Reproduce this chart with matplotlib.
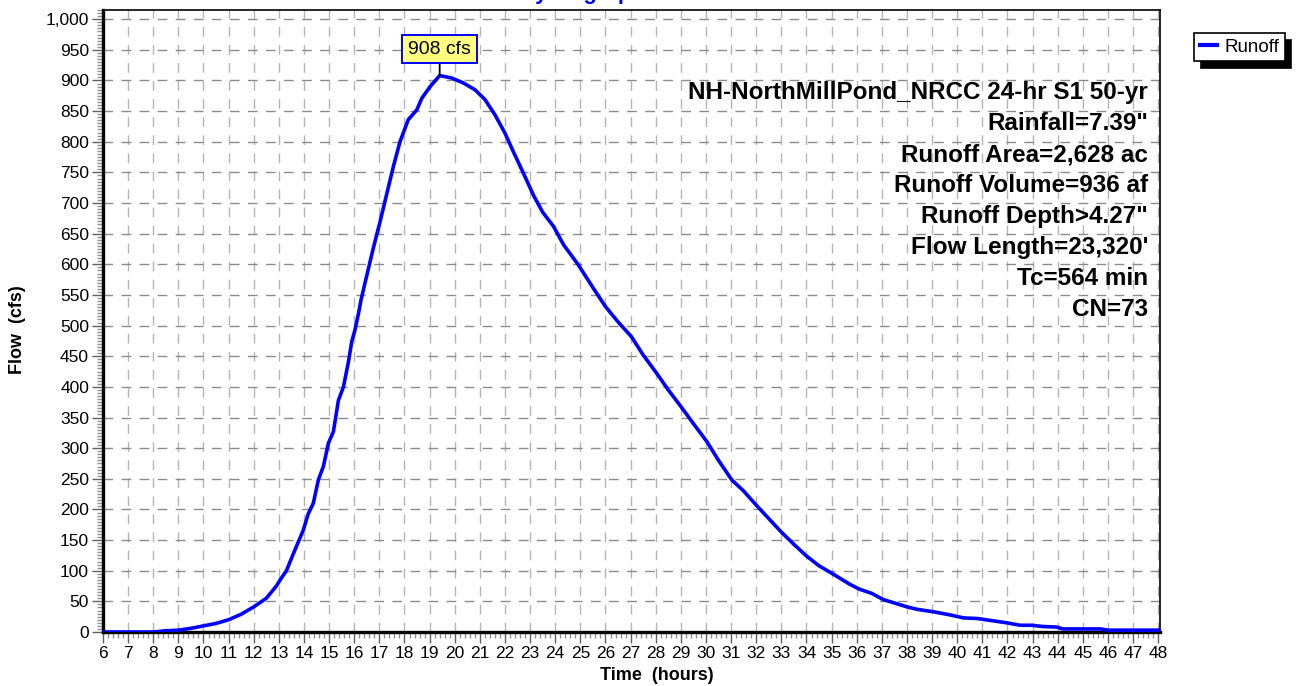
import matplotlib.pyplot as plt
from matplotlib.ticker import MultipleLocator, FuncFormatter

plt.rcParams['font.family'] = ['Liberation Sans', 'DejaVu Sans']

# hydrograph (hours, cfs)
time_hr = [6, 7, 8, 8.5, 9, 9.5, 10, 10.5, 11, 11.5, 12, 12.5, 12.9, 13.05, 13.3,
           13.64, 13.97, 14.17, 14.37, 14.57, 14.77, 14.97, 15.17, 15.37, 15.57,
           15.77, 15.9, 16.03, 16.17, 16.27, 16.5, 16.75, 17.03, 17.3, 17.56,
           17.82, 18.15, 18.49, 18.69, 19.02, 19.4, 19.88, 20.34, 20.8, 21.2,
           21.6, 22, 22.33, 22.73, 23.13, 23.5, 23.93, 24.33, 24.92, 25.5, 26,
           26.5, 27.03, 27.5, 28.04, 28.5, 29, 29.5, 30.03, 30.5, 31.03, 31.5,
           32, 32.5, 33, 33.5, 34, 34.5, 35, 35.72, 36.1, 36.6, 37.05, 38, 38.4,
           39.05, 39.7, 40.25, 40.8, 41.3, 41.97, 42.5, 42.96, 43.4, 43.96, 44.2,
           45, 45.7, 46, 48]
flow_cfs = [0, 0, 0, 2, 3, 6, 10, 14, 20, 29, 41, 55, 75, 85, 100,
            134, 166, 193, 210, 248, 270, 308, 327, 378, 400,
            441, 474, 493, 520, 542, 582, 625, 670, 716, 760,
            800, 836, 852, 871, 890, 908, 904, 896, 885, 869,
            844, 814, 784, 749, 713, 685, 662, 632, 599, 562, 531,
            506, 482, 452, 422, 395, 368, 340, 311, 280, 248, 230,
            207, 185, 163, 143, 124, 108, 96, 78, 70, 63, 53, 41, 37,
            33, 28, 23, 22, 19, 15, 11, 11, 9, 8, 5,
            5, 5, 3, 3]

peak_time = 19.4
peak_flow = 908

info_lines = ['NH-NorthMillPond_NRCC 24-hr S1 50-yr',
              'Rainfall=7.39"',
              'Runoff Area=2,628 ac',
              'Runoff Volume=936 af',
              'Runoff Depth>4.27"',
              "Flow Length=23,320'",
              'Tc=564 min',
              'CN=73']

fig = plt.figure(figsize=(12.96, 6.86), dpi=100)
ax = fig.add_axes([103/1296, 54/686, 1057/1296, 622/686])

ax.plot(time_hr, flow_cfs, color='#0000ff', lw=2.6, label='Runoff', zorder=5,
        solid_joinstyle='round')

ax.set_xlim(6, 48.07)
ax.set_ylim(0, 1015)
ax.xaxis.set_major_locator(MultipleLocator(1))
ax.xaxis.set_minor_locator(MultipleLocator(0.2))
ax.yaxis.set_major_locator(MultipleLocator(50))
ax.yaxis.set_minor_locator(MultipleLocator(5))
ax.yaxis.set_major_formatter(FuncFormatter(lambda v, p: '{:,.0f}'.format(v)))

ax.tick_params(which='major', length=8, width=1, color='#606060',
               labelsize=12.5, pad=2)
ax.tick_params(which='minor', length=4, width=1, color='#909090')

# dashed grid, horizontal darker than vertical
ax.grid(True, axis='y', which='major', color='#8c8c8c', ls=(0, (7, 6)), lw=1)
ax.grid(True, axis='x', which='major', color='#b4b4b4', ls=(0, (7, 6)), lw=1)
ax.set_axisbelow(True)

for s in ['left', 'bottom']:
    ax.spines[s].set_linewidth(2.4)
for s in ['top', 'right']:
    ax.spines[s].set_linewidth(1.2)

ax.set_xlabel('Time  (hours)', fontsize=13, fontweight='bold')
ax.set_ylabel('Flow  (cfs)', fontsize=13, fontweight='bold')
ax.xaxis.set_label_coords((657 - 103)/1057, -(676 - 632)/622)
ax.yaxis.set_label_coords(-(103 - 17)/1057, (632 - 330)/622)
ax.xaxis.label.set_va('center')
ax.yaxis.label.set_va('center')

# peak label
ax.annotate('908 cfs', xy=(peak_time, peak_flow), xytext=(0, 13),
            textcoords='offset points', ha='center', va='bottom', fontsize=14,
            bbox=dict(boxstyle='square,pad=0.3', fc='#ffff80', ec='#0000ff', lw=1.4),
            arrowprops=dict(arrowstyle='-', color='black', lw=1.3,
                            shrinkA=0, shrinkB=0), zorder=6)

for i, line in enumerate(info_lines):
    fig.text(1148/1296, 1 - (93 + i*30.9)/686, line, ha='right', va='center',
             fontsize=17.5, fontweight='bold')

# title sits mostly above the visible area, as in the source image
fig.text(582/1296, 1 + 1/686, 'Hydrograph', ha='center', va='baseline',
         fontsize=16, fontweight='bold', color='#0000ff')

leg = fig.legend(loc='upper left', bbox_to_anchor=(1194/1296, 1 - 33/686),
                 fontsize=13.5, frameon=True, fancybox=False,
                 shadow={'color': 'black', 'alpha': 1, 'ox': 5, 'oy': -5},
                 handlelength=0.9, handletextpad=0.4, borderpad=0.3,
                 borderaxespad=0)
leg.get_frame().set_edgecolor('black')
leg.get_frame().set_linewidth(1.2)
for h in leg.get_lines():
    h.set_linewidth(3)

fig.savefig('out.png', dpi=100)
